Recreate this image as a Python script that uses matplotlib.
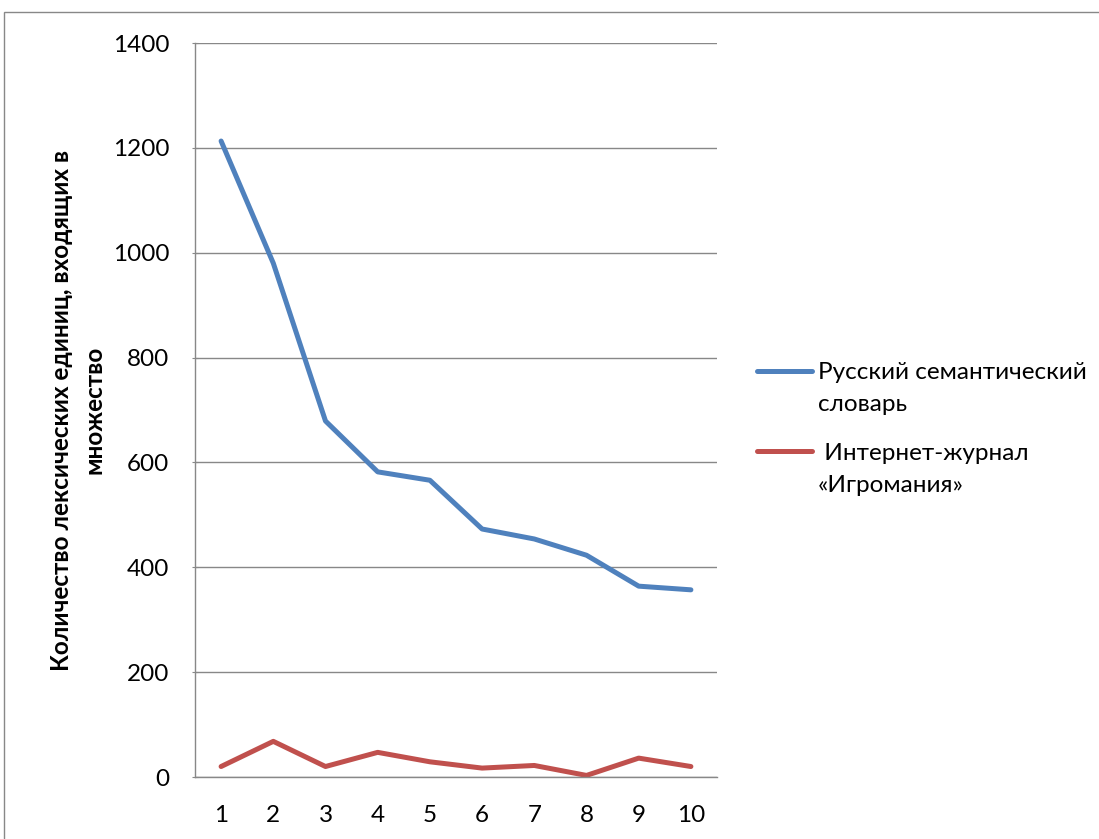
import matplotlib
matplotlib.use("Agg")
import matplotlib.pyplot as plt
from matplotlib.patches import Rectangle
from matplotlib.lines import Line2D

categories = [1, 2, 3, 4, 5, 6, 7, 8, 9, 10]
rus_dict = [1213, 980, 679, 582, 566, 473, 454, 423, 364, 357]
igromania = [20, 68, 20, 47, 29, 17, 22, 3, 36, 20]
labels = ["Русский семантический\nсловарь", " Интернет-журнал\n«Игромания»"]
colors = ['#4F81BD', '#C0504D']
yticks = [0, 200, 400, 600, 800, 1000, 1200, 1400]
ylabel = "Количество лексических единиц, входящих в\nмножество"

plt.rcParams['font.family'] = ['Lato', 'DejaVu Sans']
FS = 17.5
W, H = 1099, 839

fig = plt.figure(figsize=(10.99, 8.39), dpi=100)
fig.patches.append(Rectangle((4/W, -0.1), 1.2, 1 - 12/H + 0.1, transform=fig.transFigure,
                             fill=False, edgecolor='#888888', linewidth=1.0))
ax = fig.add_axes([195/W, 1 - 777/H, (717-195)/W, (777-43)/H])

for vals, c, lab in zip([rus_dict, igromania], colors, labels):
    ax.plot(categories, vals, color=c, linewidth=3.6, label=lab, solid_capstyle='round')

ax.set_xlim(0.5, 10.5)
ax.set_ylim(0, 1400)
ax.set_yticks(yticks)
ax.set_xticks(categories)
ax.tick_params(axis='both', labelsize=FS, colors='#000000')
ax.tick_params(axis='x', length=0, pad=20)
ax.tick_params(axis='y', length=5, color='#888888', direction='inout', pad=16)
ax.yaxis.grid(True, color='#888888', linewidth=1.0)
ax.set_axisbelow(True)
for s in ['top', 'right']:
    ax.spines[s].set_visible(False)
for s in ['left', 'bottom']:
    ax.spines[s].set_color('#888888')
    ax.spines[s].set_linewidth(1.0)

ax.set_ylabel(ylabel, fontsize=FS, fontweight='bold', labelpad=5, linespacing=1.5)

# legend drawn manually: handle aligned with first text line
line_ys = [371, 451]
text_ys = [388.5, 469.5]
for ly, ty, c, lab in zip(line_ys, text_ys, colors, labels):
    fig.add_artist(Line2D([757/W, 812/W], [1 - ly/H, 1 - ly/H], transform=fig.transFigure,
                          color=c, linewidth=3.6, solid_capstyle='round'))
    fig.text(818/W, 1 - ty/H, lab, fontsize=FS, va='center', ha='left', linespacing=1.59)

fig.savefig("out.png", dpi=100)
